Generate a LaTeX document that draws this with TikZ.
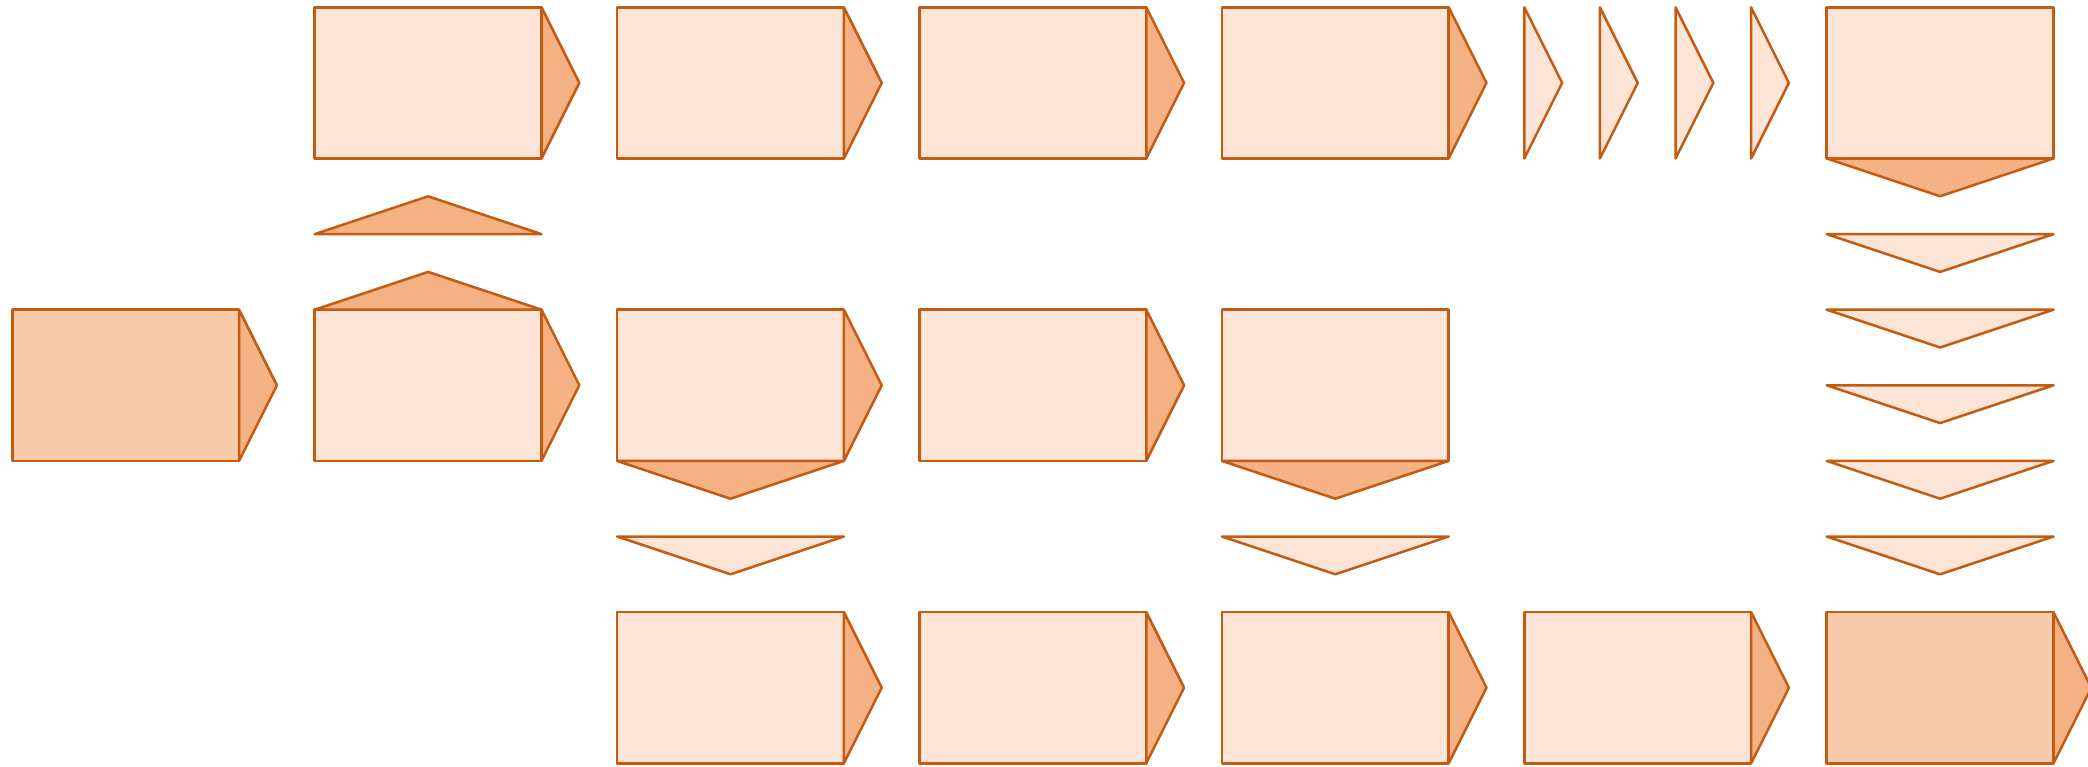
\documentclass[tikz,border=0pt]{standalone}
\definecolor{lite}{HTML}{FCE4D6}
\definecolor{midc}{HTML}{F4B183}
\definecolor{darkb}{HTML}{F8CBAD}
\definecolor{edgec}{HTML}{C55A11}
\tikzset{shp/.style={draw=edgec, line width=2.5pt, line join=round}}
% box: left x, top y, fill
\newcommand\pbox[3]{\filldraw[shp,fill=#3] (#1,#2) rectangle ++(226.8,151.2);}
% right-pointing triangle: base x, top y, fill
\newcommand\pright[3]{\filldraw[shp,fill=#3] (#1,#2) -- (#1+37.8,#2+75.6) -- (#1,#2+151.2) -- cycle;}
% down-pointing triangle: left x, base y, fill
\newcommand\pdown[3]{\filldraw[shp,fill=#3] (#1,#2) -- (#1+113.4,#2+37.8) -- (#1+226.8,#2) -- cycle;}
% up-pointing triangle: left x, base y, fill
\newcommand\pup[3]{\filldraw[shp,fill=#3] (#1,#2) -- (#1+113.4,#2-37.8) -- (#1+226.8,#2) -- cycle;}
\begin{document}
\begin{tikzpicture}[x=1pt,y=-1pt]
\useasboundingbox (0,0) rectangle (2088,766);
% ---- row 1 ----
\pbox{314.7}{7.3}{lite}\pright{541.5}{7.3}{midc}
\pbox{617.1}{7.3}{lite}\pright{843.9}{7.3}{midc}
\pbox{919.5}{7.3}{lite}\pright{1146.3}{7.3}{midc}
\pbox{1221.9}{7.3}{lite}\pright{1448.7}{7.3}{midc}
\pright{1524.3}{7.3}{lite}
\pright{1599.9}{7.3}{lite}
\pright{1675.5}{7.3}{lite}
\pright{1751.1}{7.3}{lite}
\pbox{1826.7}{7.3}{lite}\pdown{1826.7}{158.5}{midc}
% ---- between rows 1 and 2 ----
\pup{314.7}{234.1}{midc}
\pdown{1826.7}{234.1}{lite}
\pdown{1826.7}{309.7}{lite}
\pdown{1826.7}{385.3}{lite}
\pdown{1826.7}{460.9}{lite}
\pdown{1826.7}{536.5}{lite}
% ---- row 2 ----
\pbox{12.3}{309.7}{darkb}\pright{239.1}{309.7}{midc}
\pbox{314.7}{309.7}{lite}\pup{314.7}{309.7}{midc}\pright{541.5}{309.7}{midc}
\pbox{617.1}{309.7}{lite}\pright{843.9}{309.7}{midc}\pdown{617.1}{460.9}{midc}
\pbox{919.5}{309.7}{lite}\pright{1146.3}{309.7}{midc}
\pbox{1221.9}{309.7}{lite}\pdown{1221.9}{460.9}{midc}
% ---- between rows 2 and 3 ----
\pdown{617.1}{536.5}{lite}
\pdown{1221.9}{536.5}{lite}
% ---- row 3 ----
\pbox{617.1}{612.1}{lite}\pright{843.9}{612.1}{midc}
\pbox{919.5}{612.1}{lite}\pright{1146.3}{612.1}{midc}
\pbox{1221.9}{612.1}{lite}\pright{1448.7}{612.1}{midc}
\pbox{1524.3}{612.1}{lite}\pright{1751.1}{612.1}{midc}
\pbox{1826.7}{612.1}{darkb}\pright{2053.5}{612.1}{midc}
\end{tikzpicture}
\end{document}
